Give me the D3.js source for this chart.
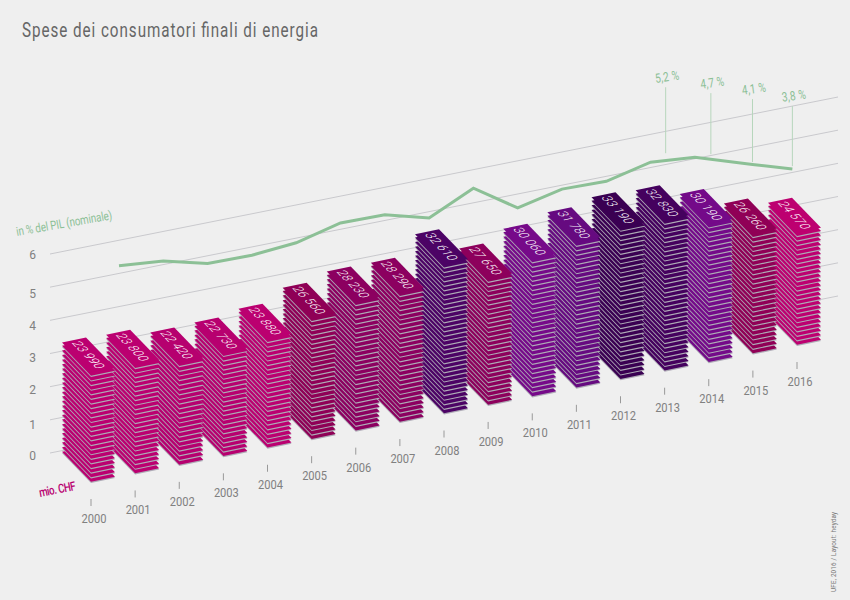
<!DOCTYPE html>
<html>
<head>
<meta charset="utf-8">
<title>Spese dei consumatori finali di energia</title>
<script src="https://cdn.jsdelivr.net/npm/d3@7"></script>
<style>
  html, body { margin: 0; padding: 0; background: #efefef; }
  svg { display: block; }
  text { font-family: Roboto, sans-serif; }
</style>
</head>
<body>
<script>
const years = [2000, 2001, 2002, 2003, 2004, 2005, 2006, 2007, 2008, 2009, 2010, 2011, 2012, 2013, 2014, 2015, 2016];
const spending = [23990, 23800, 22420, 22730, 23880, 26560, 28230, 28290, 32610, 27650, 30060, 31780, 33190, 32830, 30190, 26260, 24570];
const spendingLabels = ["23 990", "23 800", "22 420", "22 730", "23 880", "26 560", "28 230", "28 290", "32 610", "27 650", "30 060", "31 780", "33 190", "32 830", "30 190", "26 260", "24 570"];

const lineYears = [2000, 2001, 2002, 2003, 2004, 2005, 2006, 2007, 2008, 2009, 2010, 2011, 2012, 2013, 2014.3, 2015.2];
const lineValues = [5.23, 5.11, 4.77, 4.75, 4.86, 5.19, 5.17, 4.81, 5.44, 4.58, 4.88, 4.85, 5.16, 5.04, 4.48, 4.1];

const calloutYears = [2012.34, 2013.36, 2014.3, 2015.2];
const calloutLabels = ["5,2 %", "4,7 %", "4,1 %", "3,8 %"];
const calloutTops = [7.33, 6.88, 6.45, 6.0];
const calloutBottoms = [5.34, 5.04, 4.55, 4.19];

const pctTicks = [0, 1, 2, 3, 4, 5, 6];

const width = 850;
const height = 600;

const svg = d3.select("body").append("svg")
  .attr("width", width)
  .attr("height", height)
  .style("background", "#efefef");

// front corner of each stack, on the ground
const baseX = d3.scaleLinear().domain([2000, 2016]).range([91, 797]);
const baseY = d3.scaleLinear().domain([2000, 2016]).range([483, 346]);
const stackHeight = d3.scaleLinear().domain([0, 23990]).range([0, 110.6]);

const sheetColor = d3.scaleLinear()
  .domain([23000, 24600, 26300, 28300, 30100, 31800, 33000])
  .range(["#b8006f", "#bd0070", "#8f0055", "#8c0060", "#750a8a", "#660a80", "#400058"]);

// slanted percentage grid
const gridBase = d3.scaleLinear().domain([50, 838]).range([453, 296]);
const pctRise = d3.scaleLinear().domain([0, 6]).range([0, 199]);
const pctY = (x, pct) => gridBase(x) - pctRise(pct);
const lineX = d3.scaleLinear().domain([2000, 2016]).range([119, 827.8]);

// labels do not sit exactly on their grid lines in the original
const pctLabelY = d3.scaleLinear().domain(pctTicks).range([456, 425, 390, 358, 326, 293.5, 255]);

const depth = [-29, -30];
const side = [24, -5];

// the original uses a narrow, tracked face: squeeze Roboto and open the spacing
const squeeze = 0.78;

svg.append("g")
  .selectAll("line")
  .data(pctTicks)
  .join("line")
  .attr("x1", 50)
  .attr("x2", 838)
  .attr("y1", (d) => pctY(50, d))
  .attr("y2", (d) => pctY(838, d))
  .attr("stroke", "#c9c9cd")
  .attr("stroke-width", 1);

const pctAxis = svg.append("g")
  .attr("transform", "translate(36,0)")
  .call(d3.axisLeft(pctLabelY).tickValues(pctTicks).tickFormat(d3.format("d")).tickSize(0).tickPadding(0));
pctAxis.select(".domain").remove();
pctAxis.selectAll("text")
  .attr("fill", "#808080")
  .style("font-family", "Roboto, sans-serif")
  .style("font-size", "12px");

// stacks, back to front
const sheetPoints = (x, y) => [
  [x, y],
  [x + side[0], y + side[1]],
  [x + side[0] + depth[0], y + side[1] + depth[1]],
  [x + depth[0], y + depth[1]]
].join(" ");

const stacks = years.map((year, i) => ({
  year,
  value: spending[i],
  label: spendingLabels[i],
  x: baseX(year),
  y: baseY(year)
}));

const stackGroups = svg.append("g")
  .selectAll("g")
  .data(stacks.slice().reverse())
  .join("g");

stackGroups.each(function (d) {
  const g = d3.select(this);
  const total = stackHeight(d.value);
  const count = Math.round(d.value / 1000);
  const step = total / count;
  const color = sheetColor(d.value);
  for (let k = 0; k < count; k++) {
    const y = d.y - k * step;
    g.append("polygon")
      .attr("points", sheetPoints(d.x, y))
      .attr("fill", "#aeaab6");
    g.append("polygon")
      .attr("points", sheetPoints(d.x, y - 1.2))
      .attr("fill", color);
  }
  g.append("polygon")
    .attr("points", sheetPoints(d.x, d.y - total))
    .attr("fill", color);

  // value printed on the top sheet, sheared to its plane
  const cx = d.x + (depth[0] + side[0]) / 2;
  const cy = d.y - total + (depth[1] + side[1]) / 2;
  g.append("text")
    .attr("transform", `matrix(${0.695 * 0.92},${0.72 * 0.92},-0.98,0.2,${cx},${cy})`)
    .attr("text-anchor", "middle")
    .attr("y", 4.5)
    .attr("fill", "#fff")
    .attr("font-size", 13)
    .attr("font-weight", 300)
    .attr("textLength", 37 / 0.92)
    .attr("lengthAdjust", "spacing")
    .text(d.label);
});

// year ticks and labels
const yearTicks = svg.append("g")
  .selectAll("g")
  .data(stacks)
  .join("g");

yearTicks.append("line")
  .attr("x1", (d) => d.x)
  .attr("x2", (d) => d.x)
  .attr("y1", (d) => d.y + 16)
  .attr("y2", (d) => d.y + 23)
  .attr("stroke", "#999");

yearTicks.append("text")
  .attr("x", (d) => d.x + 3)
  .attr("y", (d) => d.y + 40)
  .attr("text-anchor", "middle")
  .attr("fill", "#808080")
  .attr("font-size", 12.5)
  .attr("textLength", 25)
  .attr("lengthAdjust", "spacingAndGlyphs")
  .text((d) => d.year);

// percentage line
const line = d3.line()
  .x((d) => lineX(d[0]))
  .y((d) => pctY(lineX(d[0]), d[1]));

svg.append("path")
  .datum(lineYears.map((year, i) => [year, lineValues[i]]))
  .attr("d", line)
  .attr("fill", "none")
  .attr("stroke", "#8cc096")
  .attr("stroke-width", 3);

const callouts = svg.append("g")
  .selectAll("g")
  .data(calloutYears.map((year, i) => ({ year, label: calloutLabels[i], top: calloutTops[i], bottom: calloutBottoms[i] })))
  .join("g");

callouts.append("line")
  .attr("x1", (d) => lineX(d.year))
  .attr("x2", (d) => lineX(d.year))
  .attr("y1", (d) => pctY(lineX(d.year), d.top))
  .attr("y2", (d) => pctY(lineX(d.year), d.bottom))
  .attr("stroke", "#b7d6bc")
  .attr("stroke-width", 1);

callouts.append("text")
  .attr("transform", (d) => {
    const x = lineX(d.year) + 2;
    const y = pctY(lineX(d.year), d.top) - 6;
    return `translate(${x},${y}) rotate(-8) scale(${squeeze},1)`;
  })
  .attr("text-anchor", "middle")
  .attr("fill", "#8cc096")
  .attr("font-size", 13)
  .attr("textLength", 24 / squeeze)
  .attr("lengthAdjust", "spacing")
  .text((d) => d.label);

// captions
svg.append("text")
  .attr("transform", `translate(22,37) scale(${squeeze},1)`)
  .attr("fill", "#666")
  .attr("font-size", 19.5)
  .attr("textLength", 296 / squeeze)
  .attr("lengthAdjust", "spacing")
  .text("Spese dei consumatori finali di energia");

svg.append("text")
  .attr("transform", `translate(17,236) rotate(-10) scale(${squeeze},1)`)
  .attr("fill", "#8cc096")
  .attr("font-size", 12.5)
  .attr("textLength", 97 / squeeze)
  .attr("lengthAdjust", "spacing")
  .text("in % del PIL (nominale)");

svg.append("text")
  .attr("transform", `translate(40,497) rotate(-11) scale(${squeeze},1)`)
  .attr("fill", "#b8006f")
  .attr("font-size", 12.5)
  .attr("font-weight", 500)
  .attr("textLength", 37 / squeeze)
  .attr("lengthAdjust", "spacing")
  .text("mio. CHF");

svg.append("text")
  .attr("transform", `translate(836,592) rotate(-90) scale(${squeeze},1)`)
  .attr("fill", "#777")
  .attr("font-size", 8)
  .attr("textLength", 80 / squeeze)
  .attr("lengthAdjust", "spacing")
  .text("UFE, 2016 / Layout: heyday");
</script>
</body>
</html>
